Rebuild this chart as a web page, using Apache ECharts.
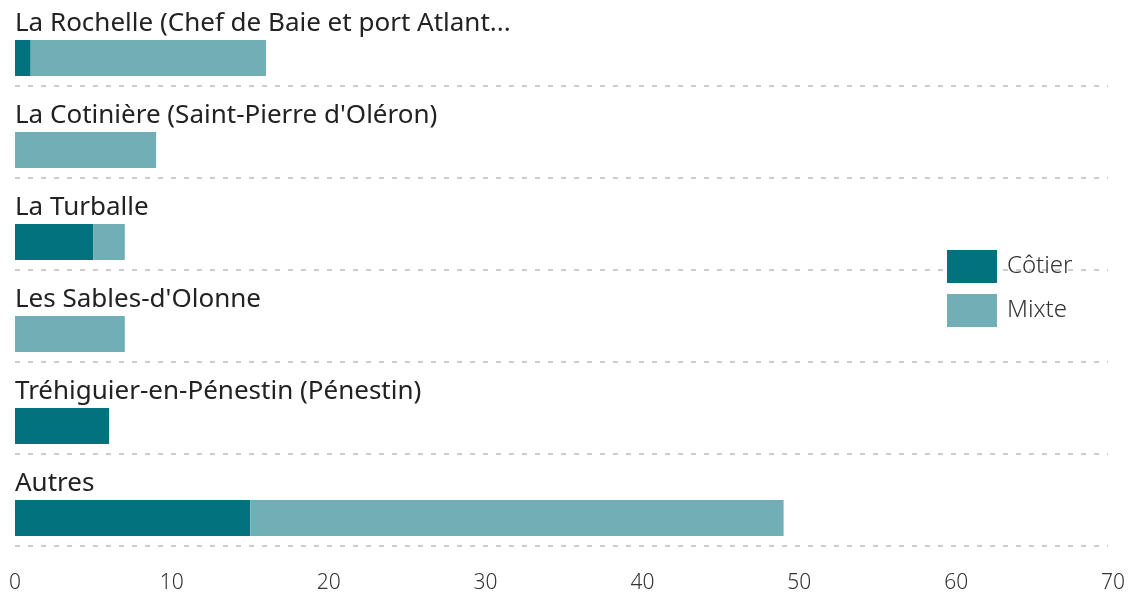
<!DOCTYPE html>
<html><head><meta charset="utf-8">
<script src="https://cdn.jsdelivr.net/npm/echarts@6/dist/echarts.min.js"></script>
<style>html,body{margin:0;padding:0;background:#fff}#c{width:1130px;height:595px}</style>
</head><body><div id="c"></div>
<script>
const categories = ["La Rochelle (Chef de Baie et port Atlant...", "La Cotinière (Saint-Pierre d'Oléron)", "La Turballe", "Les Sables-d'Olonne", "Tréhiguier-en-Pénestin (Pénestin)", "Autres"];
const cotier = [1, 0, 5, 0, 6, 15];
const mixte = [15, 9, 2, 7, 0, 34];
const xTicks = [0, 10, 20, 30, 40, 50, 60, 70];
const separators = [0, 1, 2, 3, 4, 5];

const font = "'Noto Sans', sans-serif";
const chart = echarts.init(document.getElementById('c'), null, {renderer: 'canvas'});
chart.setOption({
  animation: false,
  grid: [
    {left: 15, right: 17, top: 12, bottom: 31, containLabel: false, outerBoundsMode: 'none'},
    {left: 15, right: 22, top: 86, bottom: 49, containLabel: false, outerBoundsMode: 'none'}
  ],
  legend: {
    data: ['Côtier', 'Mixte'], orient: 'vertical', left: 947, top: 250, padding: 0,
    itemWidth: 50, itemHeight: 33, itemGap: 11, icon: 'rect',
    textStyle: {fontFamily: font, fontSize: 24, color: '#333', fontWeight: 300, padding: [6, 0, 0, 5]}
  },
  xAxis: [
    {
      type: 'value', gridIndex: 0, min: xTicks[0], max: xTicks[xTicks.length - 1], interval: 10,
      axisLine: {show: false}, axisTick: {show: false}, splitLine: {show: false},
      axisLabel: {margin: 9, fontFamily: font, fontSize: 21, color: '#333', fontWeight: 300}
    },
    {
      type: 'value', gridIndex: 1, min: xTicks[0], max: xTicks[xTicks.length - 1], interval: 10,
      axisLine: {show: false}, axisTick: {show: false}, axisLabel: {show: false}, splitLine: {show: false}
    }
  ],
  yAxis: [
    {
      type: 'category', gridIndex: 0, data: categories, inverse: true,
      axisLine: {show: false}, axisTick: {show: false}, splitLine: {show: false},
      axisLabel: {inside: true, margin: 0, align: 'left', verticalAlign: 'bottom', lineHeight: 69,
        fontFamily: font, fontSize: 26, color: '#222'}
    },
    {
      type: 'value', gridIndex: 1, min: separators[0], max: separators[separators.length - 1], interval: 1,
      inverse: true,
      axisLine: {show: false}, axisTick: {show: false}, axisLabel: {show: false},
      splitLine: {show: true, showMinLine: true, showMaxLine: true, lineStyle: {color: '#cccccc', width: 2, type: [5, 8]}}
    }
  ],
  series: [
    {name: 'Côtier', type: 'bar', stack: 'b', data: cotier, barWidth: 36, itemStyle: {color: '#03727f'}},
    {name: 'Mixte', type: 'bar', stack: 'b', data: mixte, barWidth: 36, itemStyle: {color: '#72aeb6'}}
  ]
});
</script></body></html>
